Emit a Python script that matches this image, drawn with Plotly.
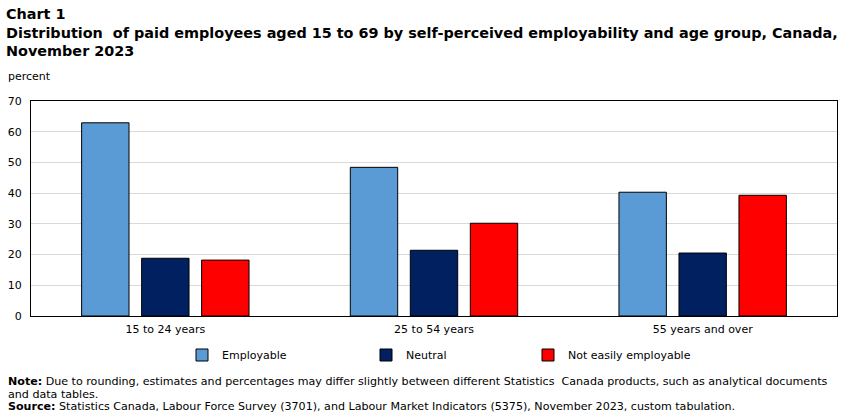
import plotly.graph_objects as go

categories = ["15 to 24 years", "25 to 54 years", "55 years and over"]
employable = [62.9, 48.4, 40.3]
neutral = [18.8, 21.4, 20.5]
not_easily = [18.2, 30.2, 39.3]
y_ticks = [0, 10, 20, 30, 40, 50, 60, 70]

series = [
    ("Employable", employable, "#5B9BD5", "legend"),
    ("Neutral", neutral, "#002060", "legend2"),
    ("Not easily employable", not_easily, "#FF0000", "legend3"),
]

W, H = 852, 417
L, R, T, B = 31, 15, 101, 101
PW, PH = W - L - R, H - T - B


def px_x(x):
    return (x - L) / PW


def px_y(y):
    return (H - B - y) / PH


fig = go.Figure()
for name, vals, col, lg in series:
    fig.add_trace(go.Bar(
        x=categories, y=vals, name=name, legend=lg,
        marker=dict(color=col, line=dict(color="#000000", width=1)),
    ))

font_body = "DejaVu Sans, Verdana, sans-serif"
title_text = ("<b>Chart 1<br>Distribution  of paid employees aged 15 to 69 by self-perceived "
              "employability and age group, Canada,<br>November 2023</b>")
note_lines = [
    ("<b>Note:</b> Due to rounding, estimates and percentages may differ slightly between "
     "different Statistics  Canada products, such as analytical documents", 381),
    ("and data tables.", 394),
    ("<b>Source:</b> Statistics Canada, Labour Force Survey (3701), and Labour Market Indicators "
     "(5375), November 2023, custom tabulation.", 406),
]

legend_common = dict(orientation="h", yanchor="middle", xanchor="left",
                     font=dict(size=11, color="#000000"), itemwidth=30,
                     bgcolor="rgba(0,0,0,0)")
legend_x = [182, 366, 528]

annotations = [
    dict(text=title_text, xref="paper", yref="paper", x=px_x(7), y=px_y(4), xshift=-3,
         xanchor="left", yanchor="top", align="left", showarrow=False,
         font=dict(family=font_body, size=14.4, color="#000000")),
    dict(text="percent", xref="paper", yref="paper", x=px_x(8), y=px_y(77), xshift=-2,
         xanchor="left", yanchor="middle", showarrow=False, font=dict(size=11)),
]
for txt, yc in note_lines:
    annotations.append(dict(text=txt, xref="paper", yref="paper", x=px_x(8), y=px_y(yc),
                            xshift=-2, xanchor="left", yanchor="middle", align="left",
                            showarrow=False, font=dict(size=11.1)))

fig.update_layout(
    width=W, height=H,
    margin=dict(l=L, r=R, t=T, b=B, autoexpand=False),
    paper_bgcolor="white", plot_bgcolor="white",
    font=dict(family=font_body, size=11, color="#000000"),
    barmode="group", bargap=0.33, bargroupgap=0.21,
    showlegend=True,
    legend=dict(x=px_x(legend_x[0]), y=px_y(355), **legend_common),
    legend2=dict(x=px_x(legend_x[1]), y=px_y(355), **legend_common),
    legend3=dict(x=px_x(legend_x[2]), y=px_y(355), **legend_common),
    xaxis=dict(showline=True, linecolor="#000000", linewidth=1, mirror=True,
               ticks="", showgrid=False, tickfont=dict(size=11), ticklabelstandoff=3,
               automargin=False),
    yaxis=dict(range=[0, 70], tickvals=y_ticks, showline=True, linecolor="#000000",
               linewidth=1, mirror=True, showgrid=True, gridcolor="#D9D9D9",
               gridwidth=1, ticks="", tickfont=dict(size=11), zeroline=False,
               ticklabelstandoff=6, automargin=False),
    annotations=annotations,
)

fig.write_html("out.html")
